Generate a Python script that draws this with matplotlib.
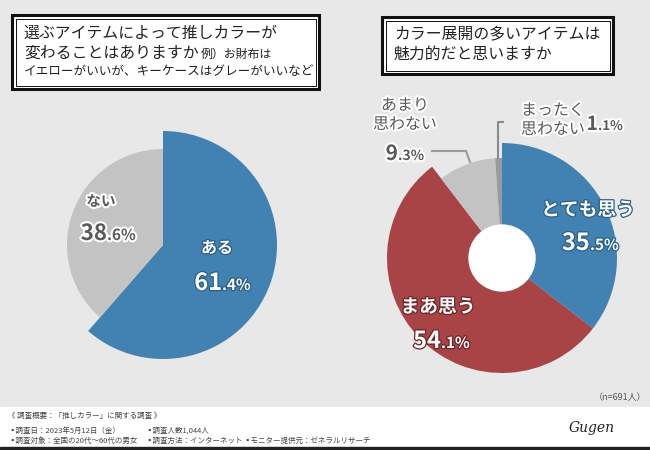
import matplotlib
matplotlib.use('Agg')
import matplotlib.pyplot as plt
import matplotlib.patheffects as pe
from matplotlib.patches import Rectangle, Circle

plt.rcParams['font.family'] = ['Noto Sans CJK JP', 'DejaVu Sans']

# 左: 選ぶアイテムによって推しカラーが変わるか
left_labels = ['ある', 'ない']
left_values = [61.4, 38.6]
left_colors = ['#4182b3', '#c3c3c3']

# 右: カラー展開の多いアイテムは魅力的か
right_labels = ['とても思う', 'まあ思う', 'あまり\n思わない', 'まったく\n思わない']
right_values = [35.5, 54.1, 9.3, 1.1]
right_colors = ['#4182b3', '#a84446', '#c3c3c3', '#9a9a9a']

left_title = ['選ぶアイテムによって推しカラーが', '変わることはありますか']
left_note = ['例）お財布は', 'イエローがいいが、キーケースはグレーがいいなど']
right_title = ['カラー展開の多いアイテムは', '魅力的だと思いますか']

footer = [
    '《 調査概要：「推しカラー」に関する調査 》',
    '▪調査日：2023年5月12日（金）',
    '▪調査対象：全国の20代～60代の男女',
    '▪調査人数1,044人',
    '▪調査方法：インターネット',
    '▪モニター提供元：ゼネラルリサーチ',
]
n_text = '（n=691人）'

W, H = 650, 450
fig = plt.figure(figsize=(6.5, 4.5), dpi=100)
ax = fig.add_axes([0, 0, 1, 1])


def Y(y):
    # 画像の上からのピクセル -> データ座標
    return H - y


# 背景
ax.add_patch(Rectangle((0, 0), W, H, color='#e8e8e8', zorder=0))
ax.add_patch(Rectangle((0, 3), W, 40, color='white', zorder=1))
ax.add_patch(Rectangle((0, 0), W, 3, color='#222222', zorder=1))

# 左の円グラフ（大きさの違う2つの扇）
lc = (163, Y(245))
for i, r in enumerate([114, 96]):
    cols = [c if j == i else 'none' for j, c in enumerate(left_colors)]
    ax.pie(left_values, colors=cols, radius=r, center=lc, startangle=90,
           counterclock=False, wedgeprops=dict(linewidth=0), frame=True)

# 右の円グラフ
rc = (502, Y(258))
radii = [115, 115, 100, 100]
for i, r in enumerate(radii):
    cols = [c if j == i else 'none' for j, c in enumerate(right_colors)]
    ax.pie(right_values, colors=cols, radius=r, center=rc, startangle=90,
           counterclock=False, wedgeprops=dict(linewidth=0), frame=True)
ax.add_patch(Circle(rc, 33, color='white', zorder=5))

ax.set_xlim(0, W)
ax.set_ylim(0, H)
ax.set_aspect('auto')
ax.axis('off')

white_fx = [pe.withStroke(linewidth=3, foreground='white')]


def dark_fx(c):
    return [pe.withStroke(linewidth=1.8, foreground=c)]


def pct(x, yb, value, big, small, color, fx):
    s = f'{value:.1f}'
    ip, dp = s.split('.')
    ax.text(x, Y(yb), ip, fontsize=big, fontweight='bold', color=color,
            ha='right', va='baseline', path_effects=fx, zorder=10)
    ax.text(x, Y(yb), '.' + dp + '%', fontsize=small, fontweight='bold',
            color=color, ha='left', va='baseline', path_effects=fx, zorder=10)


# 左のラベル
ax.text(217, Y(248), left_labels[0], fontsize=11.5, fontweight='bold', color='white',
        ha='center', va='center', path_effects=dark_fx('#2b5f8a'), zorder=10)
pct(222, 290, left_values[0], 17, 11, 'white', dark_fx('#2b5f8a'))
ax.text(101, Y(201), left_labels[1], fontsize=10.5, fontweight='bold', color='#5a5a5a',
        ha='center', va='center', path_effects=white_fx, zorder=10)
pct(107, 240, left_values[1], 16, 11, '#5a5a5a', white_fx)

# 右のラベル
ax.text(588, Y(210), right_labels[0], fontsize=13.5, fontweight='bold', color='white',
        ha='center', va='center', path_effects=dark_fx('#2b5f8a'), zorder=10)
pct(590, 250, right_values[0], 17, 11, 'white', dark_fx('#2b5f8a'))
ax.text(438, Y(307), right_labels[1], fontsize=13.5, fontweight='bold', color='white',
        ha='center', va='center', path_effects=dark_fx('#6e2527'), zorder=10)
pct(441, 348, right_values[1], 17, 11, 'white', dark_fx('#6e2527'))
ax.text(405, Y(115), right_labels[2], fontsize=11.5, color='#5a5a5a', ha='center',
        va='center', linespacing=1.15, path_effects=white_fx, zorder=10)
pct(398, 160, right_values[2], 15, 10, '#5a5a5a', white_fx)
ax.text(521, Y(120), right_labels[3], fontsize=11.5, color='#5a5a5a', ha='left',
        va='center', linespacing=1.15, path_effects=white_fx, zorder=10)
pct(598, 130, right_values[3], 14, 9.5, '#5a5a5a', white_fx)

# 引き出し線
ax.plot([432, 466, 470], [Y(151), Y(151), Y(162)], color='#9a9a9a', lw=1.5, zorder=6)
ax.plot([503, 498, 498], [Y(122), Y(122), Y(158)], color='#8a8a8a', lw=1.5, zorder=6)

# タイトル枠


def title_box(x0, y0, x1, y1):
    ax.add_patch(Rectangle((x0, Y(y1)), x1 - x0, y1 - y0, facecolor='white',
                           edgecolor='#111111', lw=2.2, zorder=8))
    ax.add_patch(Rectangle((x0 + 3.5, Y(y1) + 3.5), x1 - x0 - 7, y1 - y0 - 7,
                           facecolor='none', edgecolor='#111111', lw=0.7, zorder=8))


title_box(12, 15, 319, 89)
ax.text(24, Y(33), left_title[0], fontsize=11.4, color='#222222', ha='left', va='center', zorder=9)
ax.text(24, Y(53), left_title[1], fontsize=11.4, color='#222222', ha='left', va='center', zorder=9)
ax.text(201, Y(54), left_note[0], fontsize=8.6, color='#222222', ha='left', va='center', zorder=9)
ax.text(24, Y(72), left_note[1], fontsize=9.1, color='#222222', ha='left', va='center', zorder=9)

title_box(382, 17, 613, 74)
ax.text(394, Y(35), right_title[0], fontsize=11.4, color='#222222', ha='left', va='center', zorder=9)
ax.text(394, Y(54), right_title[1], fontsize=11.4, color='#222222', ha='left', va='center', zorder=9)

# フッター
ax.text(646, Y(398), n_text, fontsize=6.5, color='#555555', ha='right', va='center', zorder=9)
fpos = [(8, 416), (8, 431), (8, 441), (145, 431), (145, 441), (243, 441)]
for s, (x, y) in zip(footer, fpos):
    ax.text(x, Y(y), s, fontsize=5.4, color='#444444', ha='left', va='center', zorder=9)
ax.text(592, Y(428), 'Gugen', fontsize=10, fontstyle='italic', family='DejaVu Serif',
        color='#222222', ha='center', va='center', zorder=9)

fig.savefig('out.png', dpi=100)
